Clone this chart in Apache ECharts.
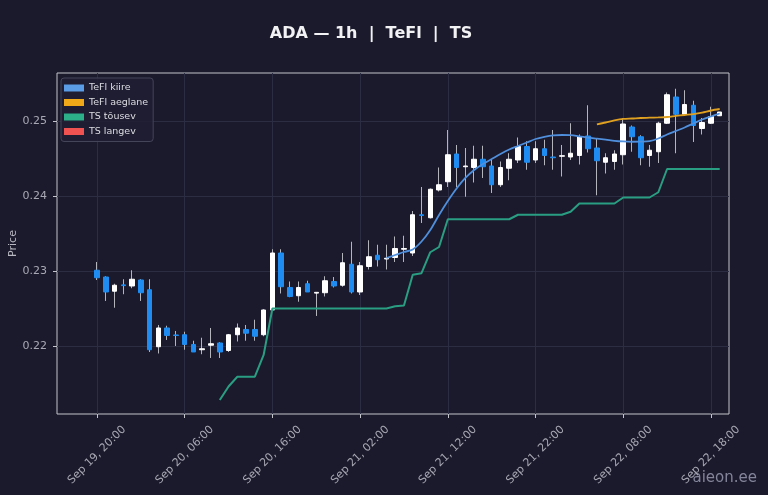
<!DOCTYPE html>
<html><head><meta charset="utf-8">
<script src="https://cdn.jsdelivr.net/npm/echarts@6/dist/echarts.min.js"></script>
<style>html,body{margin:0;padding:0;background:#1b1a2c;} #c{width:768px;height:495px;}</style>
</head><body><div id="c"></div>
<script>
// hourly candles, index 0 = Sep 19, 20:00
const opens  = [0.2301,0.2292,0.2273,0.22815,0.2280,0.2288,0.2275,0.2199,0.2224,0.22147,0.2215,0.2202,0.2195,0.2201,0.2204,0.2194,0.2215,0.2222,0.2222,0.2215,0.2248,0.2324,0.2278,0.2267,0.2283,0.22705,0.2271,0.2286,0.2281,0.2309,0.2272,0.2306,0.2321,0.2316,0.2318,0.2329,0.2324,0.2375,0.2371,0.2408,0.2419,0.2456,0.2439,0.2438,0.2449,0.2440,0.2415,0.2437,0.2448,0.2466,0.2448,0.2463,0.2452,0.2453,0.2452,0.2454,0.2480,0.2464,0.2445,0.2446,0.2455,0.2492,0.2479,0.2454,0.2459,0.2497,0.2532,0.2509,0.2521,0.2490,0.2497,0.2507];
const closes = [0.2291,0.2272,0.2281,0.22805,0.2289,0.2271,0.2195,0.2224,0.2214,0.2214,0.2202,0.2192,0.21963,0.2203,0.2192,0.2215,0.2224,0.2217,0.2213,0.2248,0.2324,0.2279,0.2266,0.2278,0.2272,0.22715,0.2287,0.2280,0.2311,0.2272,0.2307,0.2319,0.2315,0.2317,0.2330,0.2330,0.2375,0.2374,0.2409,0.2415,0.2455,0.2438,0.2440,0.2449,0.2439,0.2415,0.2438,0.2449,0.2466,0.2445,0.2463,0.2454,0.2451,0.24537,0.2457,0.2479,0.2463,0.2447,0.2451,0.2456,0.2496,0.2479,0.2451,0.2461,0.2497,0.2535,0.2509,0.2522,0.2494,0.2498,0.2506,0.2512];
const highs  = [0.2312,0.2293,0.2283,0.2289,0.2301,0.2289,0.2289,0.2228,0.2227,0.2220,0.2219,0.2207,0.2211,0.2224,0.2205,0.2216,0.2230,0.2228,0.2235,0.2249,0.2329,0.2329,0.2286,0.2286,0.2287,0.2272,0.2293,0.2292,0.2324,0.2339,0.2312,0.2341,0.2335,0.2335,0.2346,0.2347,0.2380,0.2412,0.2410,0.2438,0.2488,0.2468,0.2464,0.2467,0.2467,0.2449,0.2446,0.2457,0.2478,0.2473,0.2473,0.2475,0.2488,0.2468,0.2497,0.2482,0.2521,0.2477,0.2457,0.2461,0.2504,0.2494,0.2481,0.2468,0.2499,0.2538,0.2543,0.2541,0.2527,0.2504,0.2519,0.2512];
const lows   = [0.2288,0.2260,0.2251,0.2269,0.2277,0.2260,0.2192,0.2190,0.2208,0.2200,0.2195,0.2192,0.2189,0.2184,0.2184,0.2192,0.2206,0.2207,0.2207,0.2213,0.2247,0.2270,0.2265,0.2259,0.2272,0.2240,0.2266,0.2278,0.2279,0.2270,0.2268,0.2302,0.2306,0.2302,0.2312,0.2312,0.2320,0.2364,0.2370,0.2406,0.2412,0.2412,0.2399,0.2418,0.2424,0.2404,0.2412,0.2421,0.2444,0.2435,0.2444,0.2441,0.2435,0.2426,0.2448,0.2442,0.2458,0.2401,0.2430,0.2435,0.2442,0.2459,0.2441,0.2439,0.2444,0.2496,0.2457,0.2508,0.2472,0.2482,0.2496,0.2507];
// TeFl kiire from index 33, TeFl aeglane from index 57, TS tõusev from index 14
const tefKiireStart = 33;
const tefKiire = [0.23173,0.23213,0.23253,0.23287,0.23393,0.23547,0.23747,0.23933,0.2410,0.2424,0.24347,0.24427,0.24493,0.2456,0.2462,0.24667,0.24713,0.2476,0.24789,0.24809,0.24813,0.24811,0.24796,0.24777,0.24764,0.24751,0.24736,0.24727,0.24723,0.24724,0.24731,0.24767,0.2482,0.24867,0.24913,0.24967,0.2502,0.2506,0.2510];
const tefAeglaneStart = 57;
const tefAeglane = [0.24956,0.2498,0.25007,0.25027,0.25033,0.2504,0.25044,0.25048,0.25053,0.25067,0.2508,0.25093,0.25113,0.2514,0.2516];
const tsTousevStart = 14;
const tsTousev = [0.2128,0.2146,0.2159,0.2159,0.2159,0.2188,0.2250,0.2250,0.2250,0.2250,0.2250,0.2250,0.2250,0.2250,0.2250,0.2250,0.2250,0.2250,0.2250,0.2250,0.2253,0.2254,0.2295,0.2297,0.2325,0.2332,0.2369,0.2369,0.2369,0.2369,0.2369,0.2369,0.2369,0.2369,0.2375,0.2375,0.2375,0.2375,0.2375,0.2375,0.2379,0.2390,0.2390,0.2390,0.2390,0.2390,0.2398,0.2398,0.2398,0.2398,0.2405,0.2436,0.2436,0.2436,0.2436,0.2436,0.2436,0.2436];
const tsLangev = [];
const xTickPos = [0,10,20,30,40,50,60,70];
const xTickLabels = ['Sep 19, 20:00','Sep 20, 06:00','Sep 20, 16:00','Sep 21, 02:00','Sep 21, 12:00','Sep 21, 22:00','Sep 22, 08:00','Sep 22, 18:00'];
const yTicks = [0.22,0.23,0.24,0.25];

const FONT = 'DejaVu Sans';
const bodies = opens.map((o,i)=>[i,o,closes[i],Math.min(o,closes[i]),Math.max(o,closes[i])]);
const wicks = lows.map((l,i)=>[i,l,highs[i],l,highs[i]]);
const pairs = (arr,start)=>arr.map((v,i)=>[start+i,v]);

const chart = echarts.init(document.getElementById('c'), null, {renderer:'canvas'});
chart.setOption({
  backgroundColor:'#1b1a2c',
  animation:false,
  title:{text:'ADA — 1h  |  TeFl  |  TS',left:366,textAlign:'center',top:21,
    textStyle:{color:'#f2f2f4',fontSize:16,fontWeight:'bold',fontFamily:FONT}},
  legend:{data:['TeFl kiire','TeFl aeglane','TS tõusev','TS langev'],orient:'vertical',left:61,top:78,
    icon:'rect',itemWidth:20,itemHeight:7,itemGap:4.5,padding:[5,5,5,3],
    backgroundColor:'rgba(32,31,50,0.85)',borderColor:'#45455a',borderWidth:1,borderRadius:3,
    textStyle:{color:'#dcdce2',fontSize:9.5,fontFamily:FONT}},
  grid:{left:57,right:39,top:73,bottom:81,outerBoundsMode:'none',containLabel:false,
    show:true,borderColor:'#c4c4cc',borderWidth:1,backgroundColor:'transparent'},
  xAxis:{type:'value',min:-4.56,max:72.06,
    axisLine:{show:false,onZero:false},
    axisTick:{show:true,length:4,lineStyle:{color:'#c4c4cc'},customValues:xTickPos},
    splitLine:{show:true,lineStyle:{color:'#2c2c42',width:1}},
    axisLabel:{customValues:xTickPos,rotate:45,align:'center',verticalAlign:'middle',margin:41,
      color:'#a8a8b4',fontSize:11,fontFamily:FONT,
      formatter:v=>{const i=xTickPos.indexOf(Math.round(v));return i>=0?xTickLabels[i]:'';}}},
  yAxis:{type:'value',min:0.21093,max:0.2564,
    name:'Price',nameLocation:'middle',nameGap:38,nameMoveOverlap:false,
    nameTextStyle:{color:'#b8b8c2',fontSize:11,fontFamily:FONT},
    axisLine:{show:false,onZero:false},
    axisTick:{show:true,length:4,lineStyle:{color:'#c4c4cc'},customValues:yTicks},
    splitLine:{show:true,lineStyle:{color:'#2c2c42',width:1}},
    axisLabel:{customValues:yTicks,margin:10,color:'#a8a8b4',fontSize:11,fontFamily:FONT,
      formatter:v=>v.toFixed(2)}},
  series:[
    {name:'wick',type:'candlestick',data:wicks,barWidth:0.5,z:2,
      itemStyle:{color:'#b4b4bc',color0:'#b4b4bc',borderColor:'#b4b4bc',borderColor0:'#b4b4bc',borderWidth:1}},
    {name:'body',type:'candlestick',data:bodies,barWidth:5,z:3,
      itemStyle:{color:'#ffffff',color0:'#1e8cf0',borderColor:'#ffffff',borderColor0:'#1e8cf0',borderWidth:1}},
    {name:'TeFl kiire',type:'line',data:pairs(tefKiire,tefKiireStart),showSymbol:false,smooth:0.3,z:5,
      color:'#5a9ce6',lineStyle:{color:'#4f8fdc',width:1.8}},
    {name:'TeFl aeglane',type:'line',data:pairs(tefAeglane,tefAeglaneStart),showSymbol:false,smooth:0.3,z:5,
      color:'#f0a818',lineStyle:{color:'#e0a020',width:1.8}},
    {name:'TS tõusev',type:'line',data:pairs(tsTousev,tsTousevStart),showSymbol:false,z:4,
      color:'#2bb08a',lineStyle:{color:'#2a9e82',width:2}},
    {name:'TS langev',type:'line',data:pairs(tsLangev,0),showSymbol:false,z:4,
      color:'#f05252',lineStyle:{color:'#f05252',width:2}}
  ],
  graphic:[{type:'text',right:11,bottom:9,style:{text:'aieon.ee',fill:'#84849a',fontSize:15,fontFamily:FONT}}]
});
</script>
</body></html>
